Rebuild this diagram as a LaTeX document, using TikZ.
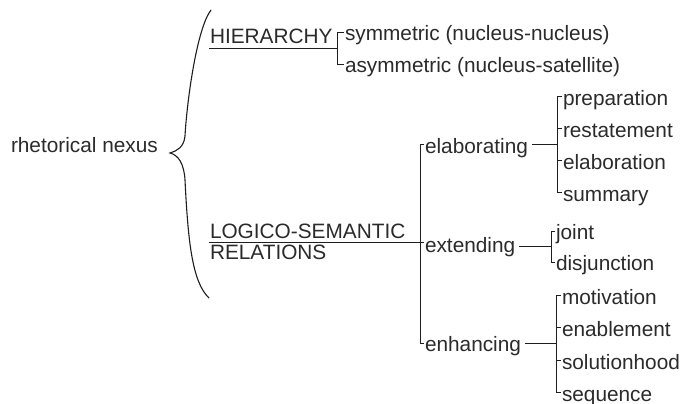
\documentclass[tikz,border=0pt]{standalone}
\usepackage{fontspec}
\setmainfont{Liberation Sans}
\usetikzlibrary{calc}
\definecolor{txt}{HTML}{2B2B2B}
\definecolor{ln}{HTML}{1E1E1E}

\begin{document}
\begin{tikzpicture}[x=1pt,y=-1pt,
  lbl/.style={anchor=base west, inner sep=0pt, outer sep=0pt, text=txt,
              font=\fontsize{20.8}{21}\selectfont},
  wire/.style={draw=ln, line width=1pt},
  bracestroke/.style={draw=ln, line width=1.1pt, line cap=round}]
\useasboundingbox[fill=white] (0,0) rectangle (688,404);

% ---- labels ----
\node[lbl] (rhet)  at (11,152)  {rhetorical nexus};
\node[lbl] (hier)  at (210,44)  {HIERARCHY};
\node[lbl] (sym)   at (345,41)  {symmetric (nucleus-nucleus)};
\node[lbl] (asym)  at (345,73)  {asymmetric (nucleus-satellite)};
\node[lbl] (lsr1)  at (210,238) {LOGICO-SEMANTIC};
\node[lbl] (lsr2)  at (210,259) {RELATIONS};
\node[lbl] (elab)  at (425,153) {elaborating};
\node[lbl] (ext)   at (425,252) {extending};
\node[lbl] (enh)   at (425,351) {enhancing};
\node[lbl] (prep)  at (563,105) {preparation};
\node[lbl] (rest)  at (563,137) {restatement};
\node[lbl] (elabn) at (563,169) {elaboration};
\node[lbl] (summ)  at (563,201) {summary};
\node[lbl] (joint) at (556,239) {joint};
\node[lbl] (disj)  at (556,270) {disjunction};
\node[lbl] (motiv) at (562,304) {motivation};
\node[lbl] (enab)  at (562,336) {enablement};
\node[lbl] (solu)  at (562,369) {solutionhood};
\node[lbl] (sequ)  at (562,401) {sequence};

% ---- curly brace grouping the two dimensions ----
\draw[bracestroke] (211,10) .. controls (197,28) and (187,100) .. (185,136)
  .. controls (184,147) and (177,151) .. (170,153)
  .. controls (178,155) and (184,163) .. (185,180)
  .. controls (188,240) and (192,282) .. (209,298);

% ---- HIERARCHY bracket ----
\coordinate (symT)  at ([shift={(-8,-8)}]sym.base west);
\coordinate (asymT) at ([shift={(-8,-8)}]asym.base west);
\coordinate (hierJ) at ($(symT)!0.5!(asymT)$);
\draw[wire] ([shift={(-1,-8)}]sym.base west) -- (symT) -- (asymT)
  -- ([shift={(-1,-8)}]asym.base west);
\draw[wire] ($(hierJ -| hier.west)+(-1,0)$) -- (hierJ);

% ---- elaborating bracket ----
\coordinate (prepT)  at ([shift={(-6,-9)}]prep.base west);
\coordinate (restT)  at ([shift={(-6,-9)}]rest.base west);
\coordinate (elabnT) at ([shift={(-6,-9)}]elabn.base west);
\coordinate (summT)  at ([shift={(-6,-9)}]summ.base west);
\coordinate (elabJ)  at ($(prepT)!0.5!(summT)$);
\draw[wire] ([shift={(-1,-9)}]prep.base west) -- (prepT) -- (summT)
  -- ([shift={(-1,-9)}]summ.base west);
\draw[wire] (restT) -- ([shift={(-1,-9)}]rest.base west);
\draw[wire] (elabnT) -- ([shift={(-1,-9)}]elabn.base west);
\draw[wire] ($(elab.east |- elabJ)+(4,0)$) -- (elabJ);

% ---- extending bracket ----
\coordinate (jointT) at ([shift={(-5,-8)}]joint.base west);
\coordinate (disjT)  at ([shift={(-5,-8)}]disj.base west);
\coordinate (extJ)   at ($(jointT)!0.5!(disjT)$);
\draw[wire] ([shift={(-1,-8)}]joint.base west) -- (jointT) -- (disjT)
  -- ([shift={(-1,-8)}]disj.base west);
\draw[wire] ($(ext.east |- extJ)+(4,0)$) -- (extJ);

% ---- enhancing bracket ----
\coordinate (motivT) at ([shift={(-6,-9)}]motiv.base west);
\coordinate (enabT)  at ([shift={(-6,-9)}]enab.base west);
\coordinate (soluT)  at ([shift={(-6,-9)}]solu.base west);
\coordinate (sequT)  at ([shift={(-6,-9)}]sequ.base west);
\coordinate (enhJ)   at ($(motivT)!0.5!(sequT)$);
\draw[wire] ([shift={(-1,-9)}]motiv.base west) -- (motivT) -- (sequT)
  -- ([shift={(-1,-9)}]sequ.base west);
\draw[wire] (enabT) -- ([shift={(-1,-9)}]enab.base west);
\draw[wire] (soluT) -- ([shift={(-1,-9)}]solu.base west);
\draw[wire] ($(enh.east |- enhJ)+(4,0)$) -- (enhJ);

% ---- logico-semantic bracket ----
\coordinate (elabM) at ($(elab.base west |- elabJ)+(-5,0)$);
\coordinate (enhM)  at ($(enh.base west |- enhJ)+(-5,0)$);
\coordinate (lsrU)  at ([shift={(-1,4.5)}]lsr1.base west);
\draw[wire] ($(elab.base west |- elabJ)+(-1,0)$) -- (elabM) -- (enhM)
  -- ($(enh.base west |- enhJ)+(-1,0)$);
\draw[wire] (lsrU) -- ($(lsrU -| ext.west)+(-1,0)$);
\end{tikzpicture}
\end{document}
